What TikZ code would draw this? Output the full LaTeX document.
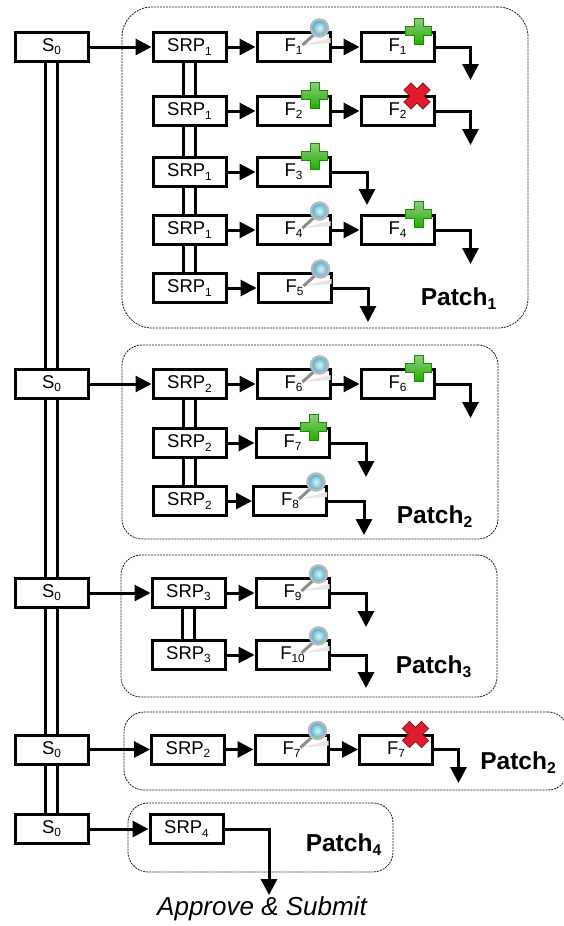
\documentclass[tikz,border=0pt]{standalone}
\usepackage{fontspec}
\usepackage{graphicx}
\setmainfont{Liberation Sans}
\usetikzlibrary{arrows.meta}
\definecolor{plusdark}{HTML}{22B000}
\definecolor{pluslight}{HTML}{8FCC82}
\definecolor{crossred}{HTML}{DE1C2B}
\definecolor{lensblue}{HTML}{3FA9C9}
\newcommand{\idx}[1]{\raisebox{-.17em}{\scalebox{.64}{#1}}}
\tikzset{
	blockbox/.style={draw,line width=3pt,minimum width=73pt,minimum height=29pt,inner sep=0pt,font=\fontsize{18.5}{20}\selectfont},
	patchbox/.style={draw=black!90,dash pattern=on 2pt off 1pt,line width=0.8pt,rounded corners=#1,inner sep=0pt},
	patchlabel/.style={inner sep=0pt,font=\fontsize{24.5}{26}\selectfont\bfseries},
	flow/.style={line width=3pt,-{Triangle[length=16pt,width=16pt]}},
	rail/.style={line width=3pt,double,double distance=9pt}
}
% icons sit on the top right corner of a box
\newcommand{\lensicon}[1]{
	\begin{scope}[shift={(#1.north east)}]
		\fill[black!10] (-29,14)--(-1,7)--(-1,12)--cycle;
		\draw[black!45,line width=3pt] (-18,4)--(-29,14);
		\draw[black!28,line width=2.5pt,inner color=lensblue!15,outer color=lensblue] (-12,-3) circle (8.5pt);
	\end{scope}
}
\newcommand{\plusicon}[1]{
	\begin{scope}[shift={(#1.north east)}]
		\draw[plusdark!80!black,line width=0.5pt,top color=pluslight,bottom color=plusdark] (-21.5,-13)--(-12.5,-13)--(-12.5,-4.5)--(-4,-4.5)--(-4,4.5)--(-12.5,4.5)--(-12.5,13)--(-21.5,13)--(-21.5,4.5)--(-30,4.5)--(-30,-4.5)--(-21.5,-4.5)--cycle;
	\end{scope}
}
\newcommand{\crossicon}[1]{
	\begin{scope}[shift={(#1.north east)},shift={(-18.5,1)},rotate=45]
		\draw[crossred!60!black,line width=0.8pt,fill=crossred] (-5,-13.5)--(5,-13.5)--(5,-5)--(13.5,-5)--(13.5,5)--(5,5)--(5,13.5)--(-5,13.5)--(-5,5)--(-13.5,5)--(-13.5,-5)--(-5,-5)--cycle;
	\end{scope}
}
\begin{document}
\begin{tikzpicture}[x=1pt,y=-1pt]
	\useasboundingbox (0,0) rectangle (564,926);
	% patch frames
	\node (p1) [patchbox=30pt,minimum width=406pt,minimum height=321pt] at (325,167.5) {};
	\node (p2) [patchbox=20pt,minimum width=376pt,minimum height=194pt] at (310,442) {};
	\node (p3) [patchbox=20pt,minimum width=376pt,minimum height=142pt] at (309,626) {};
	\node (p5) [patchbox=20pt,minimum width=444pt,minimum height=78pt] at (346,751) {};
	\node (p4) [patchbox=20pt,minimum width=265pt,minimum height=69pt] at (260.5,837.5) {};
	% main line
	\node (s1) [blockbox] at (51.5,47) {S\idx{0}};
	\node (s2) [blockbox] at (51.5,384) {S\idx{0}};
	\node (s3) [blockbox] at (51.5,593) {S\idx{0}};
	\node (s4) [blockbox] at (51.5,749.5) {S\idx{0}};
	\node (s5) [blockbox] at (51.5,829) {S\idx{0}};
	\draw[rail] (s1)--(s2);
	\draw[rail] (s2)--(s3);
	\draw[rail] (s3)--(s4);
	\draw[rail] (s4)--(s5);
	% first patch
	\node (r11) [blockbox] at (189.5,47) {SRP\idx{1}};
	\node (r12) [blockbox] at (189.5,111) {SRP\idx{1}};
	\node (r13) [blockbox] at (189.5,172) {SRP\idx{1}};
	\node (r14) [blockbox] at (189.5,230) {SRP\idx{1}};
	\node (r15) [blockbox] at (189.5,288) {SRP\idx{1}};
	\node (f11) [blockbox] at (293.5,47) {F\idx{1}};
	\node (f12) [blockbox] at (293.5,111) {F\idx{2}};
	\node (f13) [blockbox] at (293.5,172) {F\idx{3}};
	\node (f14) [blockbox] at (293.5,230) {F\idx{4}};
	\node (f15) [blockbox] at (294.5,288) {F\idx{5}};
	\node (g11) [blockbox] at (397.5,47) {F\idx{1}};
	\node (g12) [blockbox] at (397.5,111) {F\idx{2}};
	\node (g14) [blockbox] at (397.5,230) {F\idx{4}};
	\coordinate (e11) at (470.5,80);
	\coordinate (e12) at (470.5,145);
	\coordinate (e13) at (367,205);
	\coordinate (e14) at (470.5,264);
	\coordinate (e15) at (368,322);
	\draw[rail] (r11)--(r12);
	\draw[rail] (r12)--(r13);
	\draw[rail] (r13)--(r14);
	\draw[rail] (r14)--(r15);
	\draw[flow] (s1)--(r11);
	\draw[flow] (r11)--(f11);
	\draw[flow] (r12)--(f12);
	\draw[flow] (r13)--(f13);
	\draw[flow] (r14)--(f14);
	\draw[flow] (r15)--(f15);
	\draw[flow] (f11)--(g11);
	\draw[flow] (f12)--(g12);
	\draw[flow] (f14)--(g14);
	\draw[flow] (g11.east)-|(e11);
	\draw[flow] (g12.east)-|(e12);
	\draw[flow] (f13.east)-|(e13);
	\draw[flow] (g14.east)-|(e14);
	\draw[flow] (f15.east)-|(e15);
	\lensicon{f11}
	\plusicon{g11}
	\plusicon{f12}
	\crossicon{g12}
	\plusicon{f13}
	\lensicon{f14}
	\plusicon{g14}
	\lensicon{f15}
	\node (l1) [patchlabel] at (458.5,299) {Patch\idx{1}};
	% second patch
	\node (r21) [blockbox] at (189.5,384) {SRP\idx{2}};
	\node (r22) [blockbox] at (189.5,443) {SRP\idx{2}};
	\node (r23) [blockbox] at (189.5,501) {SRP\idx{2}};
	\node (f21) [blockbox] at (293.5,384) {F\idx{6}};
	\node (f22) [blockbox] at (292.5,443) {F\idx{7}};
	\node (f23) [blockbox] at (290,501) {F\idx{8}};
	\node (g21) [blockbox] at (397.5,384) {F\idx{6}};
	\coordinate (e21) at (470.5,418);
	\coordinate (e22) at (366,477);
	\coordinate (e23) at (364,535);
	\draw[rail] (r21)--(r22);
	\draw[rail] (r22)--(r23);
	\draw[flow] (s2)--(r21);
	\draw[flow] (r21)--(f21);
	\draw[flow] (r22)--(f22);
	\draw[flow] (r23)--(f23);
	\draw[flow] (f21)--(g21);
	\draw[flow] (g21.east)-|(e21);
	\draw[flow] (f22.east)-|(e22);
	\draw[flow] (f23.east)-|(e23);
	\lensicon{f21}
	\plusicon{g21}
	\plusicon{f22}
	\lensicon{f23}
	\node (l2) [patchlabel] at (434.5,517) {Patch\idx{2}};
	% third patch
	\node (r31) [blockbox] at (188.5,593) {SRP\idx{3}};
	\node (r32) [blockbox] at (188.5,655) {SRP\idx{3}};
	\node (f31) [blockbox] at (292.5,593) {F\idx{9}};
	\node (f32) [blockbox] at (292.5,655) {F\idx{10}};
	\coordinate (e31) at (366,627);
	\coordinate (e32) at (366,688);
	\draw[rail] (r31)--(r32);
	\draw[flow] (s3)--(r31);
	\draw[flow] (r31)--(f31);
	\draw[flow] (r32)--(f32);
	\draw[flow] (f31.east)-|(e31);
	\draw[flow] (f32.east)-|(e32);
	\lensicon{f31}
	\lensicon{f32}
	\node (l3) [patchlabel] at (433.5,667) {Patch\idx{3}};
	% patch two again
	\node (r41) [blockbox] at (188,749.5) {SRP\idx{2}};
	\node (f41) [blockbox] at (291.5,749.5) {F\idx{7}};
	\node (g41) [blockbox] at (396,749.5) {F\idx{7}};
	\coordinate (e41) at (458.5,783);
	\draw[flow] (s4)--(r41);
	\draw[flow] (r41)--(f41);
	\draw[flow] (f41)--(g41);
	\draw[flow] (g41.east)-|(e41);
	\lensicon{f41}
	\crossicon{g41}
	\node (l4) [patchlabel] at (518,763) {Patch\idx{2}};
	% last patch
	\node (r51) [blockbox] at (186.5,829) {SRP\idx{4}};
	\node (sub) [inner sep=0pt,font=\fontsize{26}{28}\selectfont\itshape] at (262,909) {Approve \& Submit};
	\coordinate (e51) at (269,895);
	\draw[flow] (s5)--(r51);
	\draw[flow] (r51.east)-|(e51);
	\node (l5) [patchlabel] at (343.5,845) {Patch\idx{4}};
\end{tikzpicture}
\end{document}
